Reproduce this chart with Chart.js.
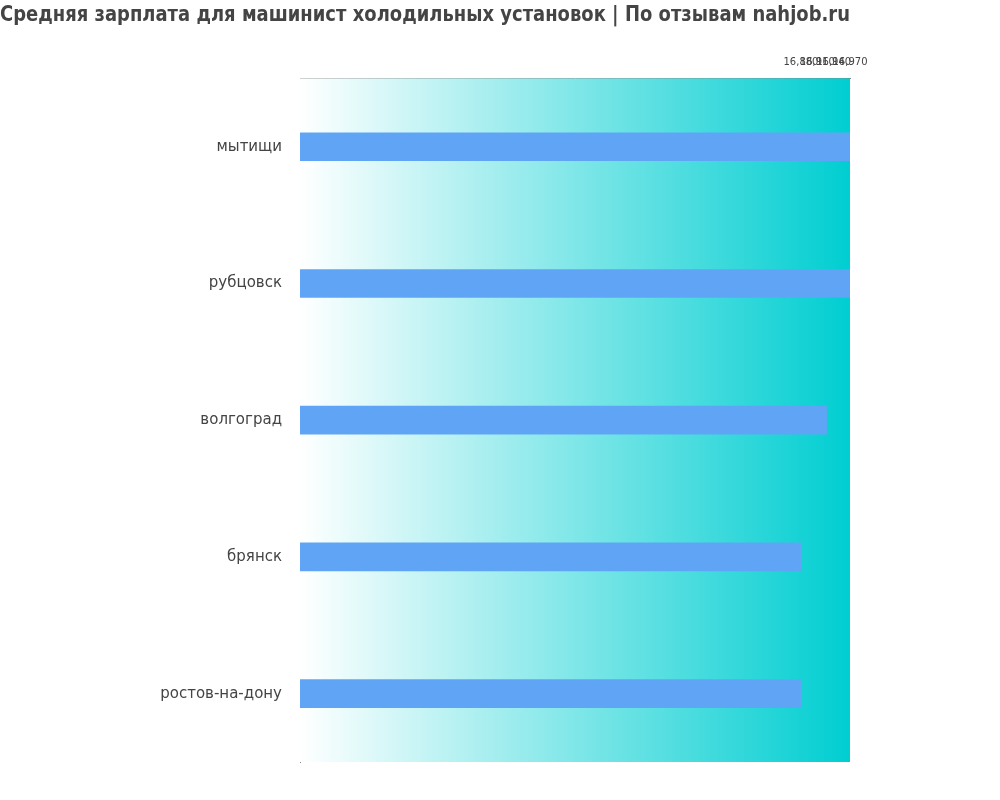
<!DOCTYPE html>
<html>
<head>
<meta charset="utf-8">
<script src="https://cdn.jsdelivr.net/npm/chart.js@4"></script>
<style>
  body { margin: 0; background: #fff; }
</style>
</head>
<body>
<canvas id="salarychart" width="1000" height="800"></canvas>
<script>
const cities = ["мытищи", "рубцовск", "волгоград", "брянск", "ростов-на-дону"];
const salaries = [16970, 16970, 16927, 16880, 16880];
const tickValues = [16880, 16910, 16940, 16970];
const titleText = "Средняя зарплата для машинист холодильных установок | По отзывам nahjob.ru";

const gradientBg = {
  id: "gradientBg",
  beforeDatasetsDraw(chart) {
    const { ctx, chartArea: a } = chart;
    const g = ctx.createLinearGradient(a.left, 0, a.right, 0);
    g.addColorStop(0, "#ffffff");
    g.addColorStop(1, "#00ced1");
    ctx.save();
    ctx.fillStyle = g;
    ctx.fillRect(a.left, a.top, a.right - a.left, a.bottom - a.top);
    ctx.restore();
  }
};

new Chart("salarychart", {
  type: "bar",
  data: {
    labels: cities,
    datasets: [{
      data: salaries,
      backgroundColor: "#60a5f5",
      barThickness: 28
    }]
  },
  options: {
    indexAxis: "y",
    responsive: false,
    animation: false,
    layout: { padding: { left: 0, right: 150, top: 0, bottom: 38 } },
    plugins: {
      legend: { display: false },
      tooltip: { enabled: false },
      title: {
        display: true,
        text: titleText,
        color: "#444",
        font: { family: "DejaVu Sans", size: 22, weight: "bold" },
        padding: { top: 2, bottom: 26 }
      }
    },
    scales: {
      x: {
        position: "top",
        min: 15960,
        max: 16970,
        afterBuildTicks(axis) { axis.ticks = tickValues.map(v => ({ value: v })); },
        grid: { display: false },
        border: { color: "#888" },
        ticks: { color: "#444", font: { family: "DejaVu Sans", size: 10 }, maxRotation: 0, autoSkip: false, padding: 2 }
      },
      y: {
        afterFit(axis) { axis.width = 300; },
        grid: { display: false },
        border: { color: "#888" },
        ticks: { color: "#444", font: { family: "DejaVu Sans", size: 15 }, padding: 10 }
      }
    }
  },
  plugins: [gradientBg]
});
</script>
</body>
</html>
